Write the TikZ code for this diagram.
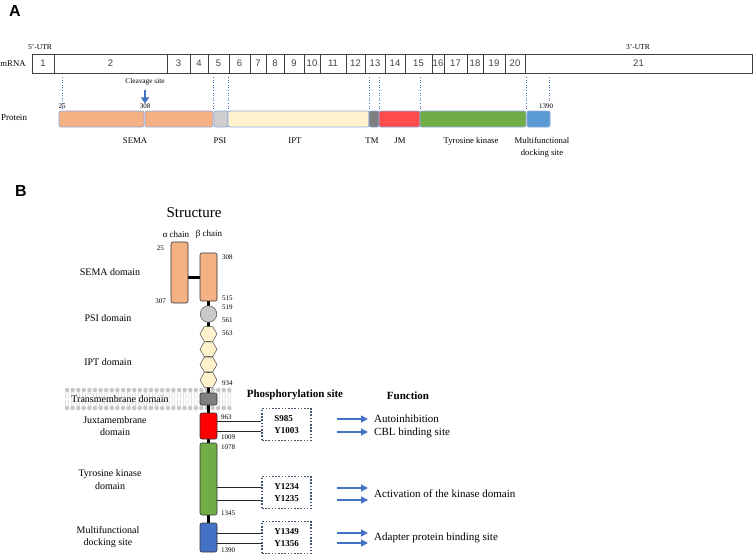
\documentclass[tikz,border=0pt]{standalone}
\usepackage{fontspec}
\setmainfont{Liberation Serif}
\newfontfamily\exonfont{Liberation Sans}
\usepackage{tikz}
\usetikzlibrary{arrows.meta,positioning,shapes.geometric,backgrounds,calc}

\definecolor{semaA}{HTML}{F4B183}
\definecolor{psiA}{HTML}{D0CECE}
\definecolor{iptA}{HTML}{FFF2CC}
\definecolor{tmA}{HTML}{7F7F7F}
\definecolor{jmA}{HTML}{FF4D4D}
\definecolor{tkA}{HTML}{70AD47}
\definecolor{mdsA}{HTML}{5B9BD5}
\definecolor{psiB}{HTML}{C9C9C9}
\definecolor{jmB}{HTML}{FF0000}
\definecolor{mdsB}{HTML}{4472C4}
\definecolor{arrowblue}{HTML}{4472C4}
\definecolor{protline}{HTML}{8EA9DB}
\definecolor{siteblue}{HTML}{44546A}
\definecolor{lipid}{HTML}{C8C8C8}

\begin{document}
\begin{tikzpicture}[x=1pt, y=-1pt,
  exon/.style={draw=black!75, line width=0.7pt},
  exonlab/.style={font=\exonfont\fontsize{9.5}{11}\selectfont, text=black!75},
  toplab/.style={font=\fontsize{8.7}{12}\selectfont, align=center},
  numlab/.style={font=\fontsize{7}{8}\selectfont, inner sep=0pt},
  guide/.style={draw=arrowblue, dotted, line width=0.6pt},
  pbar/.style={draw=protline, rounded corners=2pt, line width=0.7pt},
  panel/.style={font=\exonfont\bfseries\fontsize{16}{18}\selectfont},
  domlab/.style={font=\fontsize{10}{12.5}\selectfont, align=center},
  chain/.style={draw=black!80, rounded corners=2pt, minimum width=17pt, inner sep=0pt, line width=0.6pt},
  hexa/.style={regular polygon, regular polygon sides=6, minimum size=17pt, inner sep=0pt,
    fill=iptA, draw=black!70, line width=0.5pt},
  spine/.style={line width=3pt, black},
  sitebox/.style={draw=siteblue, dash pattern=on 1.6pt off 1.6pt, line width=1.6pt,
    minimum width=49pt, minimum height=32pt,
    align=left, font=\bfseries\fontsize{9}{11.5}\selectfont},
  fnarrow/.style={-{Triangle[length=7pt,width=7pt]}, draw=arrowblue, line width=1.5pt},
  fnlab/.style={anchor=west, font=\fontsize{11}{13}\selectfont, inner sep=0pt},
  head/.style={font=\bfseries\fontsize{11}{13}\selectfont}
]
  \useasboundingbox (0,0) rectangle (753,555);

  % ---------------- Panel A ----------------
  \node[panel] (pA) at (15,11) {A};

  % mRNA exons
  \node[toplab] (mrna) at (13,63.5) {mRNA};
  \foreach \a/\b/\n in {32/54/1, 54/167/2, 167/190/3, 190/208/4, 208/229/5, 229/250/6,
      250/266/7, 266/284/8, 284/304/9, 304/320/10, 320/346/11, 346/365/12, 365/385/13,
      385/405/14, 405/432/15, 432/444/16, 444/467/17, 467/483/18, 483/505/19, 505/525/20,
      525/752/21} {
    \draw[exon] (\a,54) rectangle (\b,73);
    \node[exonlab] (e\n) at ({(\a+\b)/2},63.5) {\n};
  }
  \node[font=\fontsize{7.5}{9}\selectfont] (utr5) at (40,47) {5'-UTR};
  \node[font=\fontsize{7.5}{9}\selectfont] (utr3) at (638,47) {3'-UTR};

  % exon to domain guides
  \foreach \x in {62,213,228,369,379,420,526} {
    \draw[guide] (\x,77) -- (\x,109);
  }
  \draw[guide] (549,77) -- (549,101);

  % protein bar
  \node[font=\fontsize{9}{11}\selectfont] (prot) at (14,118) {Protein};
  \foreach \a/\b/\c in {59/144/semaA, 145/213/semaA, 214/228/psiA, 228/369/iptA,
      369/379/tmA, 379/420/jmA, 420/526/tkA, 527/550/mdsA} {
    \draw[pbar, fill=\c] (\a,111) rectangle (\b,127);
  }
  \node[numlab] (n25) at (62,106) {25};
  \node[numlab] (n308) at (145,106) {308};
  \node[numlab] (n1390) at (546,106) {1390};
  \node[font=\fontsize{7.3}{9}\selectfont, inner sep=0pt] (cleave) at (145,82) {Cleavage site};
  \draw[arrowblue, line width=1.8pt, -{Triangle[length=6pt,width=8pt]}, shorten <=4pt]
    (cleave.south) -- (n308.north);

  % domain names
  \node[toplab] (lsema) at (135,141) {SEMA};
  \node[toplab] (lpsi) at (220,141) {PSI};
  \node[toplab] (lipt) at (295,141) {IPT};
  \node[toplab] (ltm) at (372,141) {TM};
  \node[toplab] (ljm) at (400,141) {JM};
  \node[toplab] (ltk) at (471,141) {Tyrosine kinase};
  \node[toplab] (lmds) at (542,147) {Multifunctional\\docking site};

  % ---------------- Panel B ----------------
  \node[panel] (pB) at (21,191) {B};
  \node[font=\fontsize{15}{17}\selectfont] (struct) at (194,213) {Structure};
  \node[font=\fontsize{9}{11}\selectfont] (achain) at (176,234) {α chain};
  \node[font=\fontsize{9}{11}\selectfont] (bchain) at (209,234) {β chain};

  % receptor chain
  \node[chain, fill=semaA, minimum height=61pt] (alpha) at (179.5,272.5) {};
  \node[chain, fill=semaA, minimum height=48pt] (beta) at (208.5,277) {};
  \node[circle, fill=psiB, draw=black!70, minimum size=16.5pt, inner sep=0pt, line width=0.5pt]
    (psi) at (208.5,314) {};
  \foreach \i/\y in {1/334, 2/349.3, 3/364.6, 4/379.9} {
    \node[hexa] (ipt\i) at (208.5,\y) {};
  }
  \node[chain, fill=tmA, minimum height=12pt] (tm) at (208.5,399) {};
  \node[chain, fill=jmB, minimum height=26pt] (jm) at (208.5,426) {};
  \node[chain, fill=tkA, minimum height=72pt] (tk) at (208.5,479) {};
  \node[chain, fill=mdsB, minimum height=29pt] (mds) at (208.5,537.5) {};

  \begin{scope}[on background layer]
    % lipid bilayer
    \foreach \i in {0,...,29} {
      \pgfmathsetmacro\hx{67+5.6*\i}
      \fill[lipid] (\hx,390) circle (2.3pt) (\hx,408) circle (2.3pt);
      \draw[lipid, line width=0.4pt] (\hx-1,392) -- (\hx-1.6,395.5) -- (\hx-1,398.5)
        (\hx+1,392) -- (\hx+1.6,395.5) -- (\hx+1,398.5)
        (\hx-1,399.5) -- (\hx-1.6,402.5) -- (\hx-1,406)
        (\hx+1,399.5) -- (\hx+1.6,402.5) -- (\hx+1,406);
    }
    \draw[spine] (beta.south) -- (mds.north);
    \draw[spine] (alpha.east |- beta.west) -- (beta.west);
  \end{scope}

  % residue numbers
  \node[numlab, anchor=east] (r25) at (164,248) {25};
  \node[numlab, anchor=east] (r307) at (166,301) {307};
  \foreach \y/\lab in {257/308, 298/515, 307/519, 320/561, 333/563, 383/934} {
    \node[numlab, anchor=west] (r\lab) at (222,\y) {\lab};
  }
  \foreach \y/\lab in {417/963, 437/1009, 447/1078, 513/1345, 550/1390} {
    \node[numlab, anchor=west] (r\lab) at (221,\y) {\lab};
  }

  % domain names
  \node[domlab] (dsema) at (110,272) {SEMA domain};
  \node[domlab] (dpsi) at (108,318) {PSI domain};
  \node[domlab] (dipt) at (108,362) {IPT domain};
  \node[domlab] (dtm) at (120,399) {Transmembrane domain};
  \node[domlab] (djm) at (115,426) {Juxtamembrane\\domain};
  \node[domlab] (dtk) at (110,479.5) {Tyrosine kinase\\domain};
  \node[domlab] (dmds) at (108,537) {Multifunctional\\docking site};

  % phosphorylation sites
  \node[head] (hsite) at (295,395) {Phosphorylation site};
  \node[head] (hfun) at (408,396) {Function};
  \node[sitebox] (jmsite) at (286.5,424.5) {S985\\Y1003};
  \node[sitebox] (tksite) at (286.5,492.5) {Y1234\\Y1235};
  \node[sitebox] (mdssite) at (286.5,537.5) {Y1349\\Y1356};

  \path ([yshift=5pt]jm.east) coordinate (jm1) ([yshift=-5pt]jm.east) coordinate (jm2)
        ([yshift=-8pt]tk.east) coordinate (tk1) ([yshift=-21pt]tk.east) coordinate (tk2)
        ([yshift=4.5pt]mds.east) coordinate (mds1) ([yshift=-5.5pt]mds.east) coordinate (mds2);
  \foreach \c/\s in {jm1/jmsite, jm2/jmsite, tk1/tksite, tk2/tksite, mds1/mdssite, mds2/mdssite} {
    \draw[black!85, line width=0.6pt] (\c) -- (\c -| \s.west);
  }

  % functions
  \node[fnlab] (f1) at (374,419) {Autoinhibition};
  \node[fnlab] (f2) at (374,433) {CBL binding site};
  \node[fnlab] (f3) at (374,493.5) {Activation of the kinase domain};
  \node[fnlab] (f4) at (374,538) {Adapter protein binding site};
  \foreach \y/\f in {419/f1, 432/f2, 488/f3, 500/f3, 533/f4, 543/f4} {
    \coordinate (a\y) at (337,\y);
    \draw[fnarrow, shorten >=6pt] (a\y) -- (a\y -| \f.west);
  }
\end{tikzpicture}
\end{document}
